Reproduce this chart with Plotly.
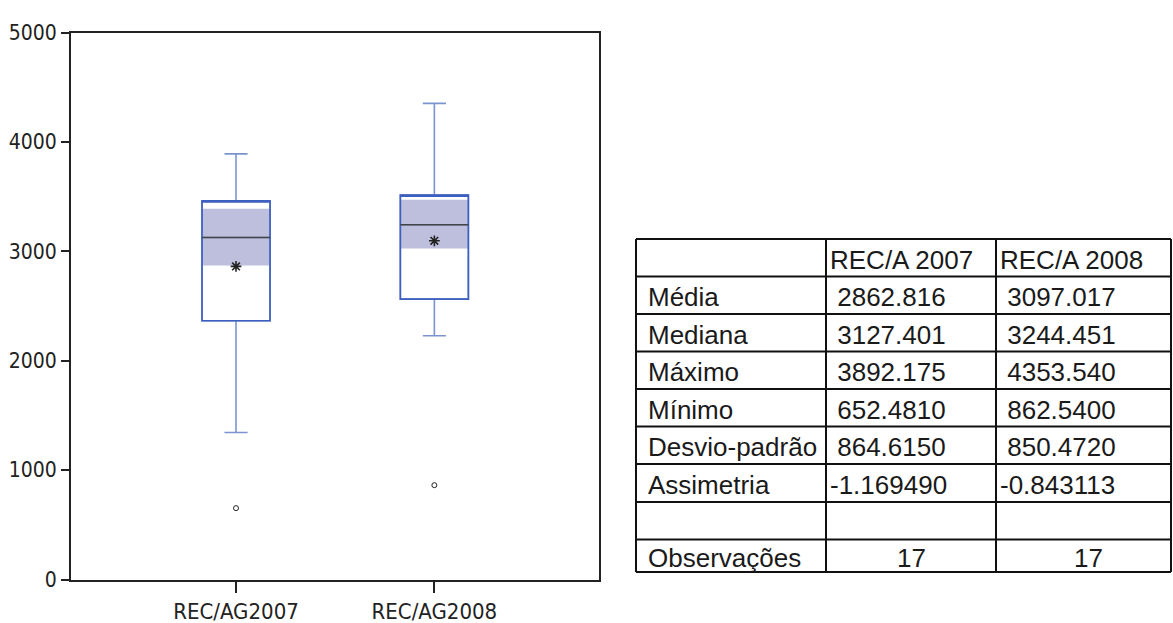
import plotly.graph_objects as go

# ---------------- data ----------------
categories = ["REC/AG2007", "REC/AG2008"]
positions = [0, 1]
q1 = [2366, 2564]
q3 = [3462, 3515]
medians = [3127.401, 3244.451]
means = [2862.816, 3097.017]
upper_whisker = [3892.175, 4353.540]
lower_whisker = [1344, 2229]
outliers = [652.481, 862.540]
ci_low = [2872, 3027]
ci_high = [3390, 3473]

y_ticks = [0, 1000, 2000, 3000, 4000, 5000]

table_col_headers = ["", "REC/A 2007", "REC/A 2008"]
table_row_labels = ["Média", "Mediana", "Máximo", "Mínimo", "Desvio-padrão",
                    "Assimetria", "", "Observações"]
table_vals_2007 = ["2862.816", "3127.401", "3892.175", "652.4810", "864.6150",
                   "-1.169490", "", "17"]
table_vals_2008 = ["3097.017", "3244.451", "4353.540", "862.5400", "850.4720",
                   "-0.843113", "", "17"]

# ---------------- figure ----------------
W, H = 1173, 623
BOX_W = 0.343
narrow = "Liberation Sans Narrow, Arial Narrow, DejaVu Sans Condensed, Liberation Sans, sans-serif"
arial = "Liberation Sans, Arial, sans-serif"

fig = go.Figure()

# shaded median band
fig.add_trace(go.Bar(
    x=positions, base=ci_low, y=[h - l for h, l in zip(ci_high, ci_low)],
    width=BOX_W, marker=dict(color="#bebedd", line=dict(width=0)),
    hoverinfo="skip", showlegend=False))

# whiskers (lighter blue)
fig.add_trace(go.Box(
    x=positions, q1=q1, median=medians, q3=q3,
    lowerfence=lower_whisker, upperfence=upper_whisker,
    width=BOX_W, whiskerwidth=0.34, fillcolor="rgba(0,0,0,0)",
    line=dict(color="#7b93d0", width=1.6), boxpoints=False, showlegend=False))

# box outline (darker blue)
fig.add_trace(go.Box(
    x=positions, q1=q1, median=q3, q3=q3,
    lowerfence=q1, upperfence=q3,
    width=BOX_W, whiskerwidth=0.0, fillcolor="rgba(0,0,0,0)",
    line=dict(color="#3d5fbf", width=1.6), boxpoints=False, showlegend=False))

# median line (dark gray)
fig.add_trace(go.Box(
    x=positions, q1=medians, median=medians, q3=medians,
    lowerfence=medians, upperfence=medians,
    width=BOX_W, whiskerwidth=0.0, fillcolor="rgba(0,0,0,0)",
    line=dict(color="#444444", width=1.6), boxpoints=False, showlegend=False))

# means
fig.add_trace(go.Scatter(
    x=positions, y=means, mode="markers",
    marker=dict(symbol="asterisk-open", size=9, color="#222222",
                line=dict(color="#222222", width=1.6)),
    showlegend=False))

# outliers
fig.add_trace(go.Scatter(
    x=positions, y=outliers, mode="markers",
    marker=dict(symbol="circle-open", size=5, color="#222222",
                line=dict(color="#222222", width=1)),
    showlegend=False))

fig.update_layout(
    width=W, height=H,
    margin=dict(l=0, r=0, t=0, b=0, autoexpand=False),
    paper_bgcolor="white", plot_bgcolor="white",
    showlegend=False,
    barmode="overlay",
    xaxis=dict(
        domain=[71 / W, 599 / W], range=[-0.832, 1.830],
        tickmode="array", tickvals=positions, ticktext=categories,
        ticks="outside", ticklen=11, tickwidth=1.5, tickcolor="#222222",
        showline=True, linecolor="#222222", linewidth=2, mirror=True,
        showgrid=False, zeroline=False,
        tickfont=dict(family=narrow, size=22, color="#222222"),
    ),
    yaxis=dict(
        domain=[(H - 579.5) / H, (H - 32.7) / H], range=[0, 5000],
        tickmode="array", tickvals=y_ticks, ticktext=[str(v) for v in y_ticks],
        ticks="outside", ticklen=8, tickwidth=1.5, tickcolor="#222222",
        showline=True, linecolor="#222222", linewidth=2, mirror=True,
        showgrid=False, zeroline=False,
        tickfont=dict(family=narrow, size=21, color="#222222"),
    ),
)

# ---------------- table (shapes + annotations) ----------------
col_edges = [636, 826, 996, 1171]
row_edges = [239, 276.5, 314, 351.5, 389, 426.5, 464, 502, 539.5, 572]

def px(x):
    return x / W

def py(y):
    return (H - y) / H

shapes = []
for x in col_edges:
    shapes.append(dict(type="line", xref="paper", yref="paper",
                       x0=px(x), x1=px(x), y0=py(row_edges[0]), y1=py(row_edges[-1]),
                       line=dict(color="#111111", width=2)))
for y in row_edges:
    shapes.append(dict(type="line", xref="paper", yref="paper",
                       x0=px(col_edges[0]), x1=px(col_edges[-1]), y0=py(y), y1=py(y),
                       line=dict(color="#111111", width=2)))
fig.update_layout(shapes=shapes)

NB = "\u00a0"
rows = [table_col_headers] + [[lab, v7, v8] for lab, v7, v8 in
                               zip(table_row_labels, table_vals_2007, table_vals_2008)]
annotations = []
for r, row in enumerate(rows):
    yc = (row_edges[r] + row_edges[r + 1]) / 2 + 2
    for c, txt in enumerate(row):
        if txt == "":
            continue
        if r > 0 and c > 0 and txt == "17":
            xa = (col_edges[c] + col_edges[c + 1]) / 2 + (0 if c == 1 else 5)
            anchor = "center"
            label = txt
        else:
            xa = col_edges[c] + (10 if c == 0 else 2)
            anchor = "left"
            label = txt if (r == 0 or c == 0 or txt.startswith("-")) else NB + txt
        annotations.append(dict(
            xref="paper", yref="paper", x=px(xa), y=py(yc),
            xanchor=anchor, yanchor="middle", text=label, showarrow=False,
            font=dict(family=arial, size=26, color="#1a1a1a")))
fig.update_layout(annotations=annotations)

fig.write_html("out.html")
